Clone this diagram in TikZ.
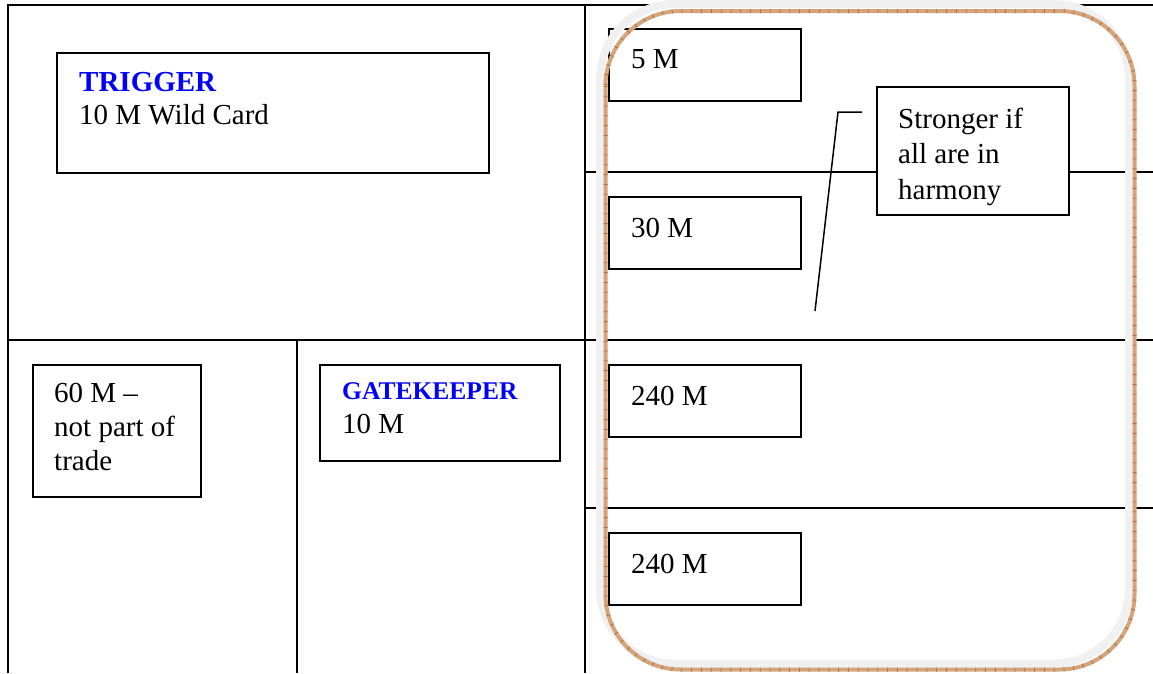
\documentclass[tikz,border=0pt]{standalone}
\usepackage{fontspec}
\setmainfont{Liberation Serif}
\definecolor{myblue}{RGB}{0,0,255}
\definecolor{halo}{RGB}{240,240,240}
\definecolor{brownline}{RGB}{212,165,125}
\definecolor{tickc}{RGB}{185,110,50}
\begin{document}
\begin{tikzpicture}[x=1pt,y=-1pt,
  tline/.style={line width=2pt},
  box/.style={draw, line width=2pt, fill=white, rectangle, inner sep=0pt, outer sep=0pt, anchor=north west},
  txt/.style={anchor=base west, inner sep=0pt, font=\fontsize{29}{34}\selectfont},
  hdr/.style={anchor=base west, inner sep=0pt, font=\fontsize{29}{34}\selectfont\bfseries, text=myblue},
  hdrs/.style={anchor=base west, inner sep=0pt, font=\fontsize{25.5}{30}\selectfont\bfseries, text=myblue},
  callout/.style={line width=1.5pt},
  roundr/.style={rounded corners=75pt}
]
\useasboundingbox (0,0) rectangle (1153,673);
% table grid
\draw[tline] (8,673) -- (8,5) -- (1153,5);
\draw[tline] (585,5) -- (585,673);
\draw[tline] (8,340) -- (1153,340);
\draw[tline] (297,340) -- (297,673);
\draw[tline] (585,172) -- (1153,172);
\draw[tline] (585,508) -- (1153,508);
% boxes
\node[box, minimum width=432pt, minimum height=120pt] (trig) at (57,53) {};
\node[box, minimum width=192pt, minimum height=72pt] (b5) at (609,29) {};
\node[box, minimum width=192pt, minimum height=72pt] (b30) at (609,197) {};
\node[box, minimum width=192pt, minimum height=72pt] (b240a) at (609,365) {};
\node[box, minimum width=192pt, minimum height=72pt] (b240b) at (609,533) {};
\node[box, minimum width=192pt, minimum height=128pt] (strong) at (877,87) {};
\node[box, minimum width=168pt, minimum height=132pt] (b60) at (33,365) {};
\node[box, minimum width=240pt, minimum height=96pt] (gate) at (320,365) {};
% texts
\node[hdr] (t1) at (79,91) {TRIGGER};
\node[txt] (t2) at (79,124) {10 M Wild Card};
\node[txt] (t3) at (631,68) {5 M};
\node[txt] (t4) at (631,237) {30 M};
\node[txt] (t5) at (631,405) {240 M};
\node[txt] (t6) at (631,573) {240 M};
\node[txt] (t7) at (898,128) {Stronger if};
\node[txt] (t8) at (898,163) {all are in};
\node[txt] (t9) at (898,199) {harmony};
\node[txt] (t10) at (54,402) {60 M –};
\node[txt] (t11) at (54,436) {not part of};
\node[txt] (t12) at (54,470) {trade};
\node[hdrs] (t13) at (342,399) {GATEKEEPER};
\node[txt] (t14) at (342,433) {10 M};
% callout line
\coordinate (c1) at (862,112);
\coordinate (c2) at (838,112);
\coordinate (c3) at (815,311);
\draw[callout] (c1) -- (c2) -- (c3);
% rounded frame with halo
\draw[halo, line width=8pt, roundr] (600,4) rectangle (1129,663.5);
\draw[brownline, line width=4pt, roundr] (605.5,11) rectangle (1134.5,669.5);
\draw[tickc, line width=4pt, roundr, dash pattern=on 0.8pt off 9pt] (605.5,11) rectangle (1134.5,669.5);
\end{tikzpicture}
\end{document}
